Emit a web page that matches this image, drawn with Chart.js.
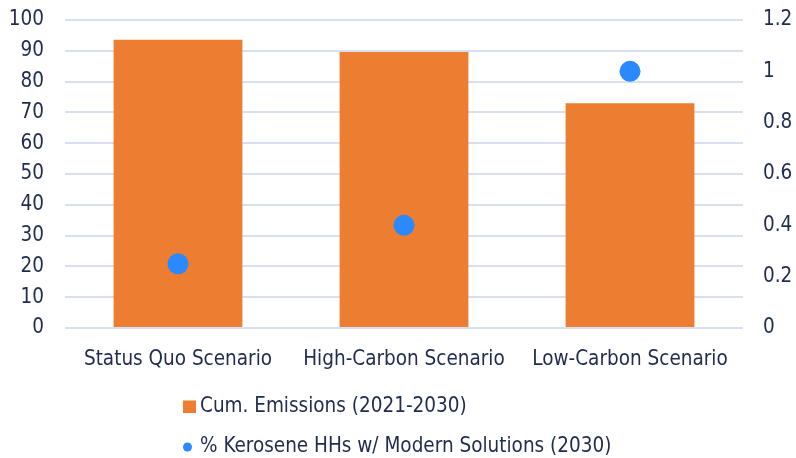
<!DOCTYPE html>
<html>
<head>
<meta charset="utf-8">
<script src="https://cdn.jsdelivr.net/npm/chart.js@4"></script>
<style>
  body { margin: 0; background: #fff; }
  #wrap { width: 796px; height: 458px; }
</style>
</head>
<body>
<div id="wrap"><canvas id="scenarioChart" width="796" height="458"></canvas></div>
<script>
const categories = ['Status Quo Scenario', 'High-Carbon Scenario', 'Low-Carbon Scenario'];
const emissions = [93.6, 89.6, 73];
const keroseneShare = [0.25, 0.40, 1.0];
const leftTicks = [0, 10, 20, 30, 40, 50, 60, 70, 80, 90, 100];
const rightTicks = [0, 0.2, 0.4, 0.6, 0.8, 1, 1.2];
const seriesNames = ['Cum. Emissions (2021-2030)', '% Kerosene HHs w/ Modern Solutions (2030)'];

const textColor = '#1f2b4f';
const font = { family: '"DejaVu Sans Condensed", "DejaVu Sans", sans-serif', size: 20.5 };
const orange = '#ed7d31';
const blue = '#2a89ff';
const gridColor = '#d9dff3';

// legend stacked in two left-aligned rows under the axis labels
const stackedLegend = {
    id: 'stackedLegend',
    afterDraw(chart) {
        const ctx = chart.ctx;
        ctx.save();
        ctx.font = font.size + 'px ' + font.family;
        ctx.textBaseline = 'middle';
        ctx.textAlign = 'left';

        ctx.fillStyle = orange;
        ctx.fillRect(183, 400.5, 13, 12.5);
        ctx.fillStyle = textColor;
        ctx.fillText(seriesNames[0], 200, 407);

        ctx.fillStyle = blue;
        ctx.beginPath();
        ctx.arc(187.5, 447, 4.5, 0, Math.PI * 2);
        ctx.fill();
        ctx.fillStyle = textColor;
        ctx.fillText(seriesNames[1], 200, 447);
        ctx.restore();
    }
};

const ctx = document.getElementById('scenarioChart').getContext('2d');
new Chart(ctx, {
    data: {
        labels: categories,
        datasets: [{
            type: 'line',
            label: seriesNames[1],
            data: keroseneShare,
            yAxisID: 'y1',
            showLine: false,
            pointRadius: 10.5,
            pointHoverRadius: 10.5,
            pointBackgroundColor: blue,
            pointBorderWidth: 0,
            order: 0
        }, {
            type: 'bar',
            label: seriesNames[0],
            data: emissions,
            yAxisID: 'y',
            backgroundColor: orange,
            categoryPercentage: 1,
            barPercentage: 0.57,
            order: 1
        }]
    },
    options: {
        responsive: false,
        animation: false,
        layout: { autoPadding: false, padding: { top: 20, bottom: 80, left: 0, right: 0 } },
        plugins: {
            legend: { display: false },
            tooltip: { enabled: false }
        },
        scales: {
            x: {
                grid: { display: false },
                border: { display: false },
                ticks: { color: textColor, font: font, padding: 11, maxRotation: 0 },
                afterFit: s => { s.height = 50; }
            },
            y: {
                position: 'left',
                min: 0,
                max: 100,
                afterBuildTicks: s => { s.ticks = leftTicks.map(v => ({ value: v })); },
                // invisible tick marks keep the labels off the plot without adding top padding
                grid: { color: gridColor, lineWidth: 2, tickLength: 21, tickColor: 'rgba(0,0,0,0)' },
                border: { display: false },
                ticks: { color: textColor, font: font, padding: 0 },
                afterFit: s => { s.width = 65; }
            },
            y1: {
                position: 'right',
                min: 0,
                max: 1.2,
                afterBuildTicks: s => { s.ticks = rightTicks.map(v => ({ value: v })); },
                grid: { drawOnChartArea: false, tickLength: 20, tickColor: 'rgba(0,0,0,0)' },
                border: { display: false },
                ticks: { color: textColor, font: font, padding: 0, callback: v => String(v) },
                afterFit: s => { s.width = 53; }
            }
        }
    },
    plugins: [stackedLegend]
});
</script>
</body>
</html>
